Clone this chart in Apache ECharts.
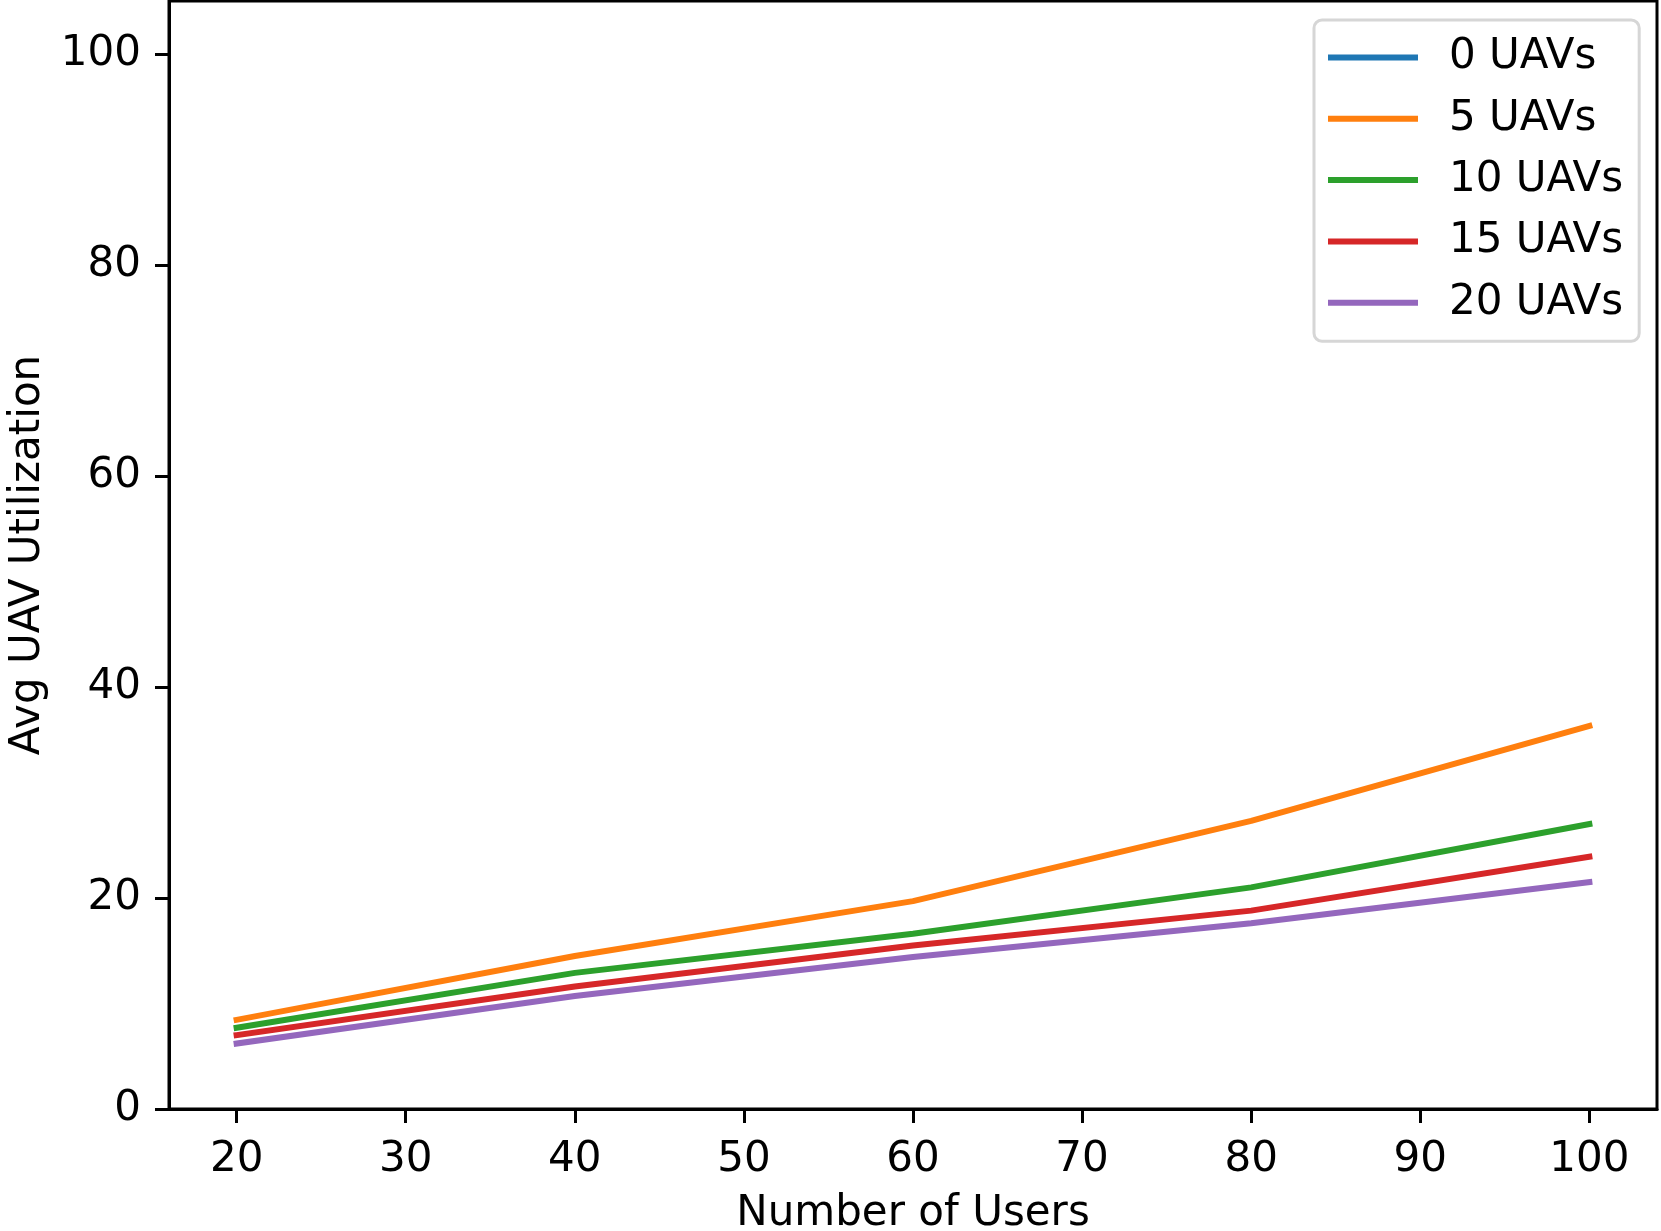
<!DOCTYPE html>
<html><head><meta charset="utf-8">
<script src="https://cdn.jsdelivr.net/npm/echarts@6/dist/echarts.min.js"></script>
<style>html,body{margin:0;padding:0;background:#fff}#c{width:1661px;height:1231px}</style>
</head><body><div id="c"></div>
<script>
const users = [20, 40, 60, 80, 100];
const seriesNames = ['0 UAVs', '5 UAVs', '10 UAVs', '15 UAVs', '20 UAVs'];
const colors = ['#1f77b4', '#ff7f0e', '#2ca02c', '#d62728', '#9467bd'];
const uav0 = [null, null, null, null, null];
const uav5 = [8.45, 14.5, 19.7, 27.3, 36.3];
const uav10 = [7.7, 12.9, 16.6, 21.0, 27.0];
const uav15 = [7.0, 11.6, 15.5, 18.8, 23.9];
const uav20 = [6.2, 10.7, 14.4, 17.6, 21.5];
const allData = [uav0, uav5, uav10, uav15, uav20];
const xTicks = [20, 30, 40, 50, 60, 70, 80, 90, 100];
const yTicks = [0, 20, 40, 60, 80, 100];

const font = 'DejaVu Sans';
const chart = echarts.init(document.getElementById('c'), null, {renderer: 'canvas'});
chart.setOption({
  animation: false,
  backgroundColor: '#fff',
  grid: {left: 169, top: 1, width: 1488, height: 1108, show: true, borderColor: '#000', borderWidth: 3,
         backgroundColor: 'transparent', containLabel: false, outerBoundsMode: 'none'},
  legend: {
    left: 1314, top: 20, orient: 'vertical',
    data: seriesNames,
    itemWidth: 90, itemHeight: 6, itemGap: 18.3,
    icon: 'rect',
    padding: [16, 16, 17, 14],
    borderColor: '#d6d6d6', borderWidth: 3, borderRadius: 8,
    backgroundColor: 'rgba(255,255,255,0.8)',
    textStyle: {fontFamily: font, fontSize: 42, color: '#000', padding: [0, 0, 0, 26], lineHeight: 43}
  },
  xAxis: {
    type: 'value', min: 16, max: 104,
    name: 'Number of Users', nameLocation: 'middle', nameGap: 84,
    nameTextStyle: {fontFamily: font, fontSize: 42, color: '#000'},
    axisLine: {show: true, lineStyle: {color: '#000', width: 3}},
    axisTick: {show: true, length: 14, lineStyle: {color: '#000', width: 3}, customValues: xTicks},
    axisLabel: {fontFamily: font, fontSize: 42, color: '#000', margin: 30, customValues: xTicks},
    splitLine: {show: false}
  },
  yAxis: {
    type: 'value', min: 0, max: 105,
    name: 'Avg UAV Utilization', nameLocation: 'middle', nameGap: 120, nameRotate: 90,
    nameTextStyle: {fontFamily: font, fontSize: 42, color: '#000'},
    axisLine: {show: true, lineStyle: {color: '#000', width: 3}},
    axisTick: {show: true, length: 14, lineStyle: {color: '#000', width: 3}, customValues: yTicks},
    axisLabel: {fontFamily: font, fontSize: 42, color: '#000', margin: 28, customValues: yTicks},
    splitLine: {show: false}
  },
  series: seriesNames.map((n, i) => ({
    name: n, type: 'line', showSymbol: false, symbol: 'none',
    color: colors[i],
    lineStyle: {width: 6, color: colors[i], cap: 'square'},
    data: users.map((u, j) => [u, allData[i][j]])
  }))
});
</script></body></html>
